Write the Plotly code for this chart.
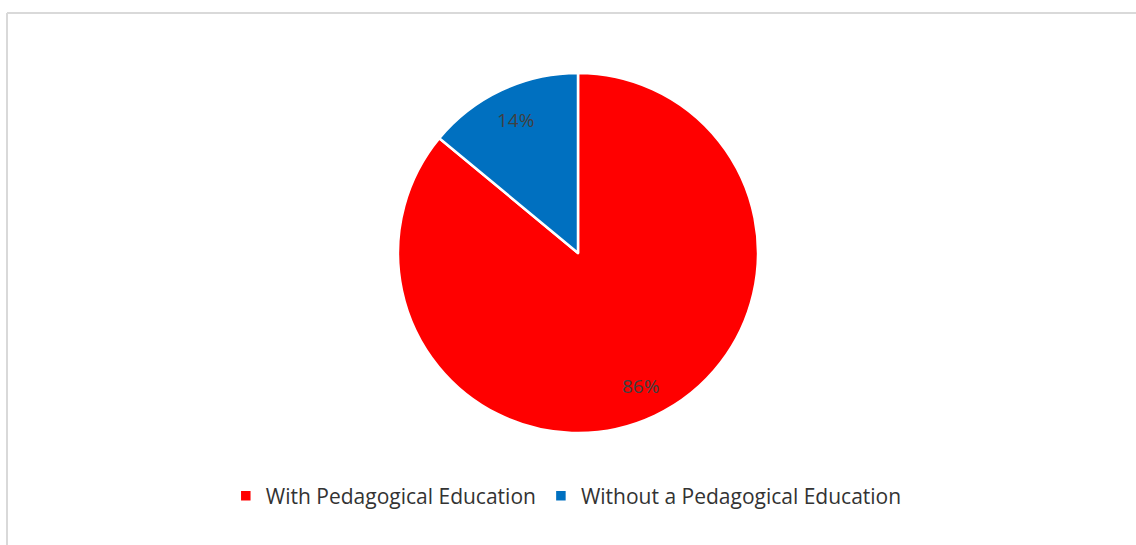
import math
import plotly.graph_objects as go

labels = ["With Pedagogical Education", "Without a Pedagogical Education"]
values = [86, 14]
colors = ["#FF0000", "#0070C0"]

W, H = 1136, 545
cx, cy, R = 578, 253, 180

fig = go.Figure(go.Pie(
    labels=labels,
    values=values,
    sort=False,
    direction="clockwise",
    rotation=0,
    marker=dict(colors=colors, line=dict(color="white", width=2.5)),
    textinfo="none",
    hoverinfo="label+percent",
    domain=dict(x=[(cx - R) / W, (cx + R) / W], y=[1 - (cy + R) / H, 1 - (cy - R) / H]),
))

# percentage labels placed at the middle angle of each slice
total = sum(values)
cum = 0
annotations = []
for v in values:
    mid = (cum + v / 2) / total * 2 * math.pi
    cum += v
    r = 0.815 * R
    px = cx + r * math.sin(mid)
    py = cy - r * math.cos(mid)
    annotations.append(dict(
        x=px / W, y=1 - py / H, xref="paper", yref="paper",
        xanchor="center", yanchor="middle",
        text=f"{round(v / total * 100)}%", showarrow=False,
        font=dict(family="Open Sans, sans-serif", size=19, color="#404040"),
    ))

fig.update_layout(
    width=W, height=H,
    margin=dict(l=0, r=0, t=0, b=0),
    paper_bgcolor="white",
    plot_bgcolor="white",
    annotations=annotations,
    showlegend=True,
    legend=dict(
        orientation="h", x=0.4985, xanchor="center", y=1 - 496 / H, yanchor="middle",
        font=dict(family="Open Sans, sans-serif", size=21, color="#333333"),
        itemwidth=30, tracegroupgap=0,
    ),
    shapes=[
        dict(type="line", xref="paper", yref="paper", x0=7 / W, x1=1.0, y0=1 - 13 / H, y1=1 - 13 / H,
             line=dict(color="#D9D9D9", width=2)),
        dict(type="line", xref="paper", yref="paper", x0=7 / W, x1=7 / W, y0=1 - 13 / H, y1=0,
             line=dict(color="#D9D9D9", width=2)),
    ],
)

fig.write_html("out.html")
